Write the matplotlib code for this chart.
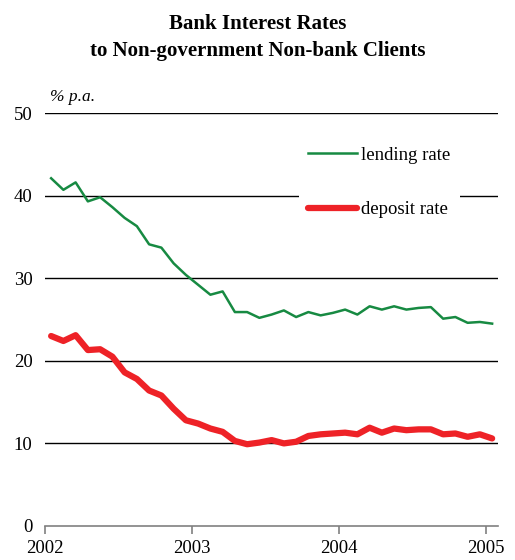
import numpy as np
import matplotlib
matplotlib.use('Agg')
import matplotlib.pyplot as plt

plt.rcParams['font.family'] = ['Liberation Serif', 'DejaVu Serif']

# monthly, Jan 2002 .. Jan 2005 (% p.a.)
months = np.arange(37)
lending = [42.1, 40.7, 41.6, 39.3, 39.8, 38.6, 37.3, 36.3, 34.1, 33.7, 31.8, 30.4,
           29.2, 28.0, 28.4, 25.9, 25.9, 25.2, 25.6, 26.1, 25.3, 25.9, 25.5, 25.8,
           26.2, 25.6, 26.6, 26.2, 26.6, 26.2, 26.4, 26.5, 25.1, 25.3, 24.6, 24.7,
           24.5]
deposit = [23.0, 22.4, 23.1, 21.3, 21.4, 20.5, 18.6, 17.8, 16.4, 15.8, 14.2, 12.8,
           12.4, 11.8, 11.4, 10.3, 9.9, 10.1, 10.4, 10.0, 10.2, 10.9, 11.1, 11.2,
           11.3, 11.1, 11.9, 11.3, 11.8, 11.6, 11.7, 11.7, 11.1, 11.2, 10.8, 11.1,
           10.6]
years = [2002, 2003, 2004, 2005]
yticks = [0, 10, 20, 30, 40, 50]

t = 2002 + (months + 0.5) / 12

fig = plt.figure(figsize=(5.15, 5.6), dpi=100)
ax = fig.add_axes([45/515, 34/560, 453/515, 413/560])

for y in yticks[1:]:
    ax.axhline(y, color='black', lw=1.0, zorder=1)

ax.plot(t, lending, color='#178a42', lw=1.8, label='lending rate', zorder=3,
        solid_joinstyle='round')
ax.plot(t, deposit, color='#ee2227', lw=4.5, label='deposit rate', zorder=3,
        solid_joinstyle='round', solid_capstyle='round')

ax.set_xlim(2002, 2002 + 453/147)
ax.set_ylim(0, 50)
ax.set_xticks(years)
ax.set_xticklabels([str(y) for y in years], fontsize=13.5)
ax.set_yticks(yticks)
ax.set_yticklabels([str(y) for y in yticks], fontsize=13.5)
ax.tick_params(axis='y', length=0, pad=9)
ax.tick_params(axis='x', direction='out', length=6, color='#808080', width=1.2, pad=4)
for s in ['left', 'right', 'top']:
    ax.spines[s].set_visible(False)
ax.spines['bottom'].set_color('#808080')
ax.spines['bottom'].set_linewidth(1.2)

leg = ax.legend(loc='upper left', bbox_to_anchor=(299/515, 1 - 137/560),
                bbox_transform=fig.transFigure, fontsize=13.5, frameon=True,
                handlelength=2.6, handletextpad=0.2, labelspacing=2.0,
                borderpad=0.5, borderaxespad=0)
leg.get_frame().set_facecolor('white')
leg.get_frame().set_edgecolor('none')
leg.get_frame().set_alpha(1)
leg.set_zorder(2)

fig.text(50/515, 1 - 97/560, '% p.a.', fontsize=12.5, style='italic',
         ha='left', va='center')
fig.text(0.5, 1 - 24/560, 'Bank Interest Rates', fontsize=15, fontweight='bold',
         ha='center', va='center')
fig.text(0.5, 1 - 51/560, 'to Non-government Non-bank Clients', fontsize=15,
         fontweight='bold', ha='center', va='center')

fig.savefig('out.png', dpi=100)
